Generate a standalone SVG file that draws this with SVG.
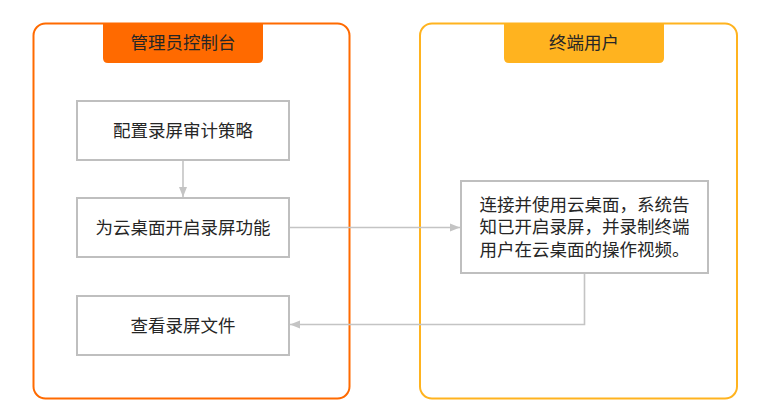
<svg xmlns="http://www.w3.org/2000/svg" width="770" height="416" viewBox="0 0 770 416">
<defs>
<style>
.t{font-family:"Noto Sans CJK SC","Noto Sans",sans-serif;font-size:17.5px;fill:#262626;text-anchor:middle}
.box{fill:#fff;stroke:#bfbfbf;stroke-width:2}
.con{fill:none;stroke:#c4c4c4;stroke-width:1.6}
</style>
<marker id="ah" viewBox="0 0 10 10" refX="10" refY="5" markerWidth="10" markerHeight="10" markerUnits="userSpaceOnUse" orient="auto">
<path d="M0,1 L10,5 L0,9 Z" fill="#c4c4c4"/>
</marker>
</defs>
<rect width="770" height="416" fill="#fff"/>
<g id="admin-lane">
<rect x="33.5" y="23.5" width="316" height="375" rx="12" fill="#fff" stroke="#ff6a00" stroke-width="2"/>
<path d="M103,23 H263 V58 Q263,63 258,63 H108 Q103,63 103,58 Z" fill="#ff6a00"/>
<text class="t" x="183" y="49">管理员控制台</text>
</g>
<g id="user-lane">
<rect x="420" y="23.5" width="317" height="375" rx="12" fill="#fff" stroke="#ffb31f" stroke-width="2"/>
<path d="M504,23 H664 V58 Q664,63 659,63 H509 Q504,63 504,58 Z" fill="#ffb31f"/>
<text class="t" x="584" y="49">终端用户</text>
</g>
<g id="connectors">
<path class="con" d="M183,160 V197" marker-end="url(#ah)"/>
<path class="con" d="M289,227.5 H460" marker-end="url(#ah)"/>
<path class="con" d="M584.5,273 V324.5 H290" marker-end="url(#ah)"/>
</g>
<g id="n1">
<rect class="box" x="77" y="101" width="212" height="59"/>
<text class="t" x="183" y="136.5">配置录屏审计策略</text>
</g>
<g id="n2">
<rect class="box" x="77" y="198" width="212" height="59"/>
<text class="t" x="183" y="233.5">为云桌面开启录屏功能</text>
</g>
<g id="n3">
<rect class="box" x="77" y="296" width="212" height="59"/>
<text class="t" x="183" y="331.5">查看录屏文件</text>
</g>
<g id="n4">
<rect class="box" x="461" y="181" width="247" height="92"/>
<text class="t" x="584.5" y="210.5">连接并使用云桌面，系统告</text>
<text class="t" x="584.5" y="233">知已开启录屏，并录制终端</text>
<text class="t" x="584.5" y="255.5">用户在云桌面的操作视频。</text>
</g>
</svg>
